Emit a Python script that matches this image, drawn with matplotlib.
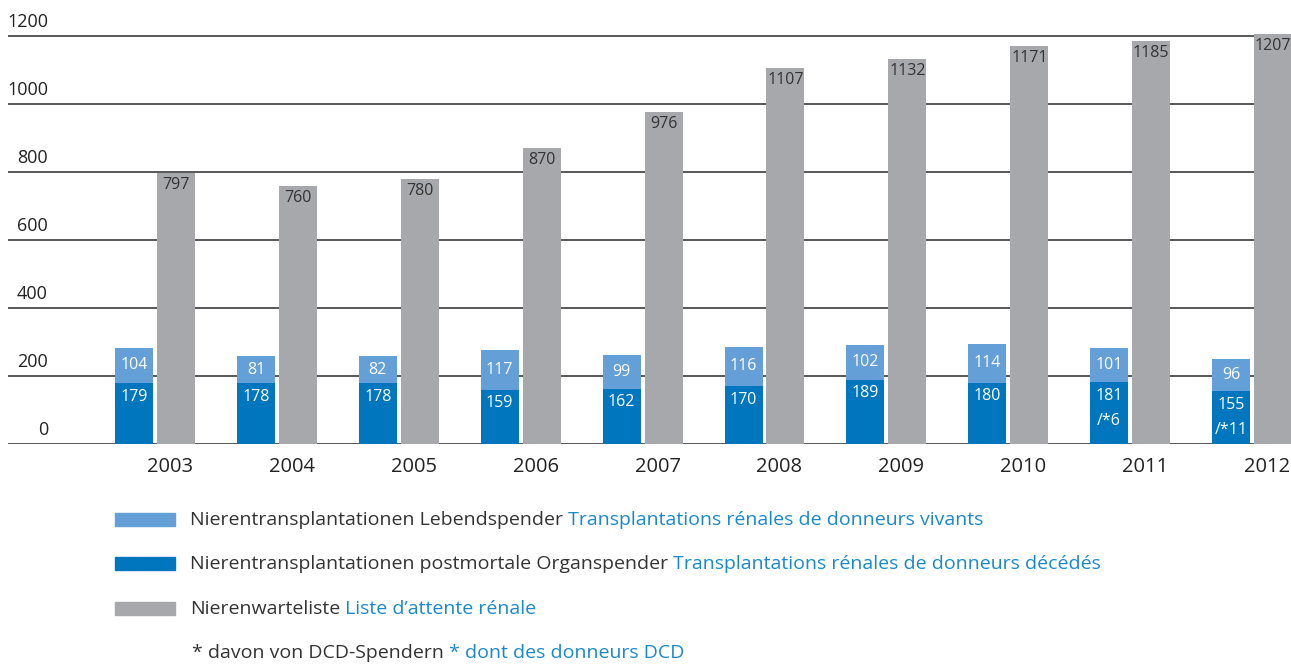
import matplotlib.pyplot as plt
import numpy as np
from matplotlib.patches import Rectangle

plt.rcParams["font.family"] = ["Open Sans", "DejaVu Sans"]

years = ["2003", "2004", "2005", "2006", "2007", "2008", "2009", "2010", "2011", "2012"]
living = [104, 81, 82, 117, 99, 116, 102, 114, 101, 96]
deceased = [179, 178, 178, 159, 162, 170, 189, 180, 181, 155]
dcd = [None, None, None, None, None, None, None, None, 6, 11]
waiting = [797, 760, 780, 870, 976, 1107, 1132, 1171, 1185, 1207]
y_ticks = [0, 200, 400, 600, 800, 1000, 1200]

legend_rows = [
    ("Nierentransplantationen Lebendspender", "Transplantations rénales de donneurs vivants"),
    ("Nierentransplantationen postmortale Organspender", "Transplantations rénales de donneurs décédés"),
    ("Nierenwarteliste", "Liste d\u2019attente rénale"),
    ("* davon von DCD-Spendern", "* dont des donneurs DCD"),
]

light_blue = "#64a0d7"
dark_blue = "#0076be"
grey = "#a7a8ac"
text_dark = "#333333"
text_blue = "#1a88cc"

W, H = 1291, 664
fig = plt.figure(figsize=(W / 100, H / 100), dpi=100)

# axes spans x 8..1291 px, y 0..444 px (baseline)
ax = fig.add_axes([8 / W, 1 - 444 / H, 1 - 8 / W, 444 / H])
px_per_unit = 0.34
ax.set_ylim(0, 444 / px_per_unit)
group_px = 121.9
ax.set_xlim((8 - 155) / group_px, (1291 - 155) / group_px)
ax.axis("off")

x = np.arange(len(years))
off = 21 / group_px
width = 38 / group_px

for t in y_ticks:
    ax.axhline(t, color="#4a4a4a", lw=1.3, zorder=1)
    ax.annotate(str(t), xy=(0, t), xycoords=("axes fraction", "data"),
                xytext=(40 * 0.72, 5 * 0.72), textcoords="offset points",
                ha="right", va="bottom", fontsize=13, color="#222222")

ax.bar(x - off, deceased, width, color=dark_blue, zorder=2)
ax.bar(x - off, living, width, bottom=deceased, color=light_blue, zorder=2)
ax.bar(x + off, waiting, width, color=grey, zorder=2)

for i in range(len(years)):
    ax.annotate(str(waiting[i]), xy=(x[i] + off, waiting[i]), xytext=(0, -3),
                textcoords="offset points", ha="center", va="top",
                fontsize=11.5, color=text_dark, zorder=3)
    ax.text(x[i] - off, deceased[i] + living[i] / 2, str(living[i]),
            ha="center", va="center", fontsize=11.5, color="white", zorder=3)
    label = str(deceased[i])
    if dcd[i] is not None:
        label += "\n/*" + str(dcd[i])
    ax.annotate(label, xy=(x[i] - off, deceased[i]), xytext=(0, -4),
                textcoords="offset points", ha="center", va="top",
                fontsize=11.5, color="white", linespacing=1.75, zorder=3)
    ax.annotate(years[i], xy=(x[i] + 15 / group_px, 0), xytext=(0, -9),
                textcoords="offset points", ha="center", va="top",
                fontsize=14.5, color="#222222")

# legend
patch_colors = [light_blue, dark_blue, grey, None]
row_y = [520, 564, 609, 653]
for (de, fr), c, yp in zip(legend_rows, patch_colors, row_y):
    if c is not None:
        fig.patches.append(Rectangle((115 / W, 1 - (yp + 6) / H), 60 / W, 13 / H,
                                     transform=fig.transFigure, color=c))
        tx = 190
    else:
        tx = 192
    t = fig.text(tx / W, 1 - yp / H, de, ha="left", va="center",
                 fontsize=14, color=text_dark)
    ax.annotate(" " + fr, xy=(1, 0.5), xycoords=t, ha="left", va="center",
                fontsize=14, color=text_blue, annotation_clip=False)

fig.savefig("out.png", dpi=100)
